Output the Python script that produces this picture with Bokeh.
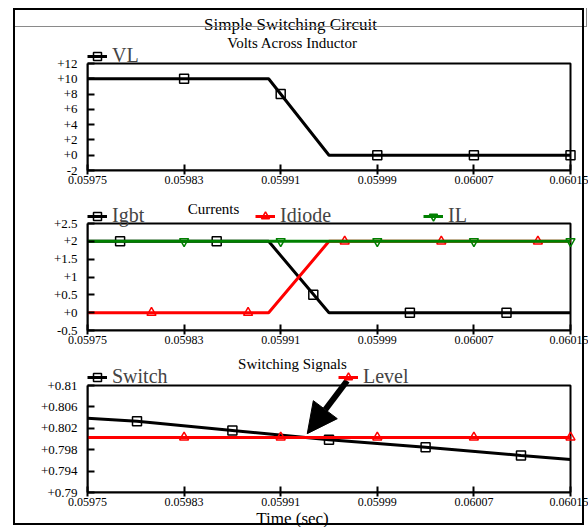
from bokeh.plotting import figure
from bokeh.layouts import column
from bokeh.models import (Range1d, FixedTicker, Legend, LegendItem, Label,
                          Arrow, NormalHead, InlineStyleSheet)
from bokeh.embed import file_html
from bokeh.resources import INLINE

FONT = "Liberation Serif"

# ---------------- data ----------------
x_ticks = [0.05975, 0.05983, 0.05991, 0.05999, 0.06007, 0.06015]
x_tick_labels = ["0.05975", "0.05983", "0.05991", "0.05999", "0.06007", "0.06015"]

# Volts across inductor
t_vl = [0.05975, 0.05990, 0.05995, 0.06015]
vl = [10.0, 10.0, 0.0, 0.0]
t_vl_mk = [0.05983, 0.05991, 0.05999, 0.06007, 0.06015]
vl_mk = [10.0, 8.0, 0.0, 0.0, 0.0]
vl_ticks = [-2, 0, 2, 4, 6, 8, 10, 12]
vl_tick_labels = ["-2", "+0", "+2", "+4", "+6", "+8", "+10", "+12"]

# Currents
t_igbt = [0.05975, 0.05990, 0.05995, 0.06015]
igbt = [2.0, 2.0, 0.0, 0.0]
t_igbt_mk = [0.059777, 0.059857, 0.059937, 0.060017, 0.060097]
igbt_mk = [2.0, 2.0, 0.5, 0.0, 0.0]

t_idiode = [0.05975, 0.05990, 0.05995, 0.06015]
idiode = [0.0, 0.0, 2.0, 2.0]
t_idiode_mk = [0.059803, 0.059883, 0.059963, 0.060043, 0.060123]
idiode_mk = [0.0, 0.0, 2.0, 2.0, 2.0]

t_il = [0.05975, 0.06015]
il = [2.0, 2.0]
t_il_mk = [0.05983, 0.05991, 0.05999, 0.06007, 0.06015]
il_mk = [2.0, 2.0, 2.0, 2.0, 2.0]

cur_ticks = [-0.5, 0.0, 0.5, 1.0, 1.5, 2.0, 2.5]
cur_tick_labels = ["-0.5", "+0", "+0.5", "+1", "+1.5", "+2", "+2.5"]

# Switching signals
t_sw = [0.05975, 0.059791, 0.05987, 0.05995, 0.06003, 0.060109, 0.06015]
sw = [0.8039, 0.8033, 0.8016, 0.79985, 0.79847, 0.79692, 0.79617]
t_sw_mk = [0.059791, 0.05987, 0.05995, 0.06003, 0.060109]
sw_mk = [0.8033, 0.8016, 0.79985, 0.79847, 0.79692]

t_lv = [0.05975, 0.06015]
lv = [0.8003, 0.8003]
t_lv_mk = [0.05983, 0.05991, 0.05999, 0.06007, 0.06015]
lv_mk = [0.8003, 0.8003, 0.8003, 0.8003, 0.8003]

sig_ticks = [0.79, 0.794, 0.798, 0.802, 0.806, 0.81]
sig_tick_labels = ["+0.79", "+0.794", "+0.798", "+0.802", "+0.806", "+0.81"]

GREEN = "#008000"
RED = "#ff0000"

W = 588
BOX_L, BOX_R = 87, 570          # pixel extent of the plot boxes
BOX_H = 107                      # pixel height of each plot box


def make_fig(height, frame_h, bottom, yr, yticks, ylabels):
    # frame extends above the box (to hold titles / legends) and to the right edge
    xspan = x_ticks[-1] - x_ticks[0]
    x_end = x_ticks[0] + xspan * (W - BOX_L) / (BOX_R - BOX_L)
    y_end = yr[0] + (yr[1] - yr[0]) * frame_h / BOX_H
    p = figure(width=W, height=height, output_backend="svg", toolbar_location=None,
               x_range=Range1d(x_ticks[0], x_end), y_range=Range1d(yr[0], y_end),
               min_border_left=BOX_L, min_border_right=0, min_border_top=0,
               min_border_bottom=bottom)
    p.grid.visible = False
    p.outline_line_color = None
    p.background_fill_alpha = 0
    p.border_fill_alpha = 0
    xa = p.xaxis[0]
    xa.ticker = FixedTicker(ticks=x_ticks)
    xa.major_label_overrides = {k: v for k, v in zip(x_ticks, x_tick_labels)}
    xa.bounds = (x_ticks[0], x_ticks[-1])
    ya = p.yaxis[0]
    ya.ticker = FixedTicker(ticks=yticks)
    ya.major_label_overrides = {k: v for k, v in zip(yticks, ylabels)}
    ya.bounds = (yr[0], yr[1])
    for ax, fs in ((xa, "12px"), (ya, "13px")):
        ax.axis_line_width = 2
        ax.axis_line_color = "black"
        ax.major_tick_line_width = 2
        ax.major_tick_line_color = "black"
        ax.minor_tick_line_color = None
        ax.major_label_text_font = FONT
        ax.major_label_text_font_size = fs
        ax.major_label_text_color = "black"
    xa.major_tick_in = 6
    xa.major_tick_out = 4
    xa.major_label_standoff = 1
    ya.major_tick_in = 7
    ya.major_tick_out = 0
    ya.major_label_standoff = 10
    # the plot box (top and right edges; left/bottom are the axis lines)
    p.quad(left=[x_ticks[0]], right=[x_ticks[-1]], bottom=[yr[0]], top=[yr[1]],
           fill_color=None, line_color="black", line_width=2)
    return p


def add_series(p, t, v, tm, vm, color, marker):
    lr = p.line(t, v, line_color=color, line_width=3)
    sr = p.scatter(tm, vm, marker=marker, size=9, fill_color=None,
                   line_color=color, line_width=1.5)
    return [lr, sr]


def add_legend(p, items, loc, label_width, spacing):
    leg = Legend(items=items, location=loc, orientation="horizontal",
                 label_text_font=FONT, label_text_font_size="20px",
                 glyph_width=20, glyph_height=20, label_height=20, label_width=label_width,
                 label_standoff=5, spacing=spacing, padding=0, margin=0,
                 border_line_color=None, background_fill_alpha=0)
    p.add_layout(leg, "center")


def add_label(p, text, x, y, size):
    p.add_layout(Label(x=x, y=y, x_units="screen", y_units="screen", text=text,
                       text_font=FONT, text_font_size=size, text_align="center",
                       text_baseline="middle", text_color="black"))


# ---------------- plot 1 (canvas y 0..200, box 63..170) ----------------
p1 = make_fig(200, 170, 30, (-2, 12), vl_ticks, vl_tick_labels)
r_vl = add_series(p1, t_vl, vl, t_vl_mk, vl_mk, "black", "square")
add_legend(p1, [LegendItem(label="VL", renderers=r_vl)], (0, 103), 30, 0)
add_label(p1, "Simple Switching Circuit", 203, 146, "17px")
add_label(p1, "Volts Across Inductor", 205, 128, "15px")

# ---------------- plot 2 (canvas y 200..354, box 223..330) ----------------
p2 = make_fig(154, 130, 24, (-0.5, 2.5), cur_ticks, cur_tick_labels)
r_igbt = add_series(p2, t_igbt, igbt, t_igbt_mk, igbt_mk, "black", "square")
r_idiode = add_series(p2, t_idiode, idiode, t_idiode_mk, idiode_mk, RED, "triangle")
r_il = add_series(p2, t_il, il, t_il_mk, il_mk, GREEN, "inverted_triangle")
add_legend(p2, [LegendItem(label="Igbt", renderers=r_igbt),
                LegendItem(label="Idiode", renderers=r_idiode),
                LegendItem(label="IL", renderers=r_il)], (0, 103), 140, 3)
add_label(p2, "Currents", 126, 122, "15px")

# ---------------- plot 3 (canvas y 354..510, box 385..492) ----------------
p3 = make_fig(156, 138, 18, (0.79, 0.81), sig_ticks, sig_tick_labels)
r_sw = add_series(p3, t_sw, sw, t_sw_mk, sw_mk, "black", "square")
r_lv = add_series(p3, t_lv, lv, t_lv_mk, lv_mk, RED, "triangle")
add_legend(p3, [LegendItem(label="Switch", renderers=r_sw),
                LegendItem(label="Level", renderers=r_lv)], (0, 104), 222, 4)
add_label(p3, "Switching Signals", 205, 129, "15px")
p3.add_layout(Arrow(end=NormalHead(size=30, fill_color="black", line_color="black"),
                    x_start=0.059965, y_start=0.8109, x_end=0.059932, y_end=0.8010,
                    line_color="black", line_width=6))

# ---------------- x-axis title strip (canvas y 510..527) ----------------
# (frames in a column are aligned, so this strip's frame also starts at x=87)
p4 = figure(width=W, height=17, output_backend="svg", toolbar_location=None,
            min_border=0, x_axis_location=None, y_axis_location=None,
            x_range=Range1d(0, 1), y_range=Range1d(0, 1))
p4.grid.visible = False
p4.outline_line_color = None
p4.background_fill_alpha = 0
p4.border_fill_alpha = 0
add_label(p4, "Time (sec)", 205, 9, "17px")

css = InlineStyleSheet(css="""
:host { position: relative; }
:host::before {
  content: ""; position: absolute; left: 13px; top: 8px; width: 574px; height: 19px;
  border-bottom: 1.5px solid #8a8a8a; border-right: 1.5px solid #8a8a8a;
  box-sizing: border-box; pointer-events: none; z-index: 5;
}
:host::after {
  content: ""; position: absolute; left: 13px; top: 8px; width: 571px; height: 517px;
  border: 2px solid black; box-sizing: border-box; pointer-events: none; z-index: 6;
}
""")

layout = column(p1, p2, p3, p4, spacing=0, stylesheets=[css])
open("out.html", "w").write(file_html(layout, INLINE))
